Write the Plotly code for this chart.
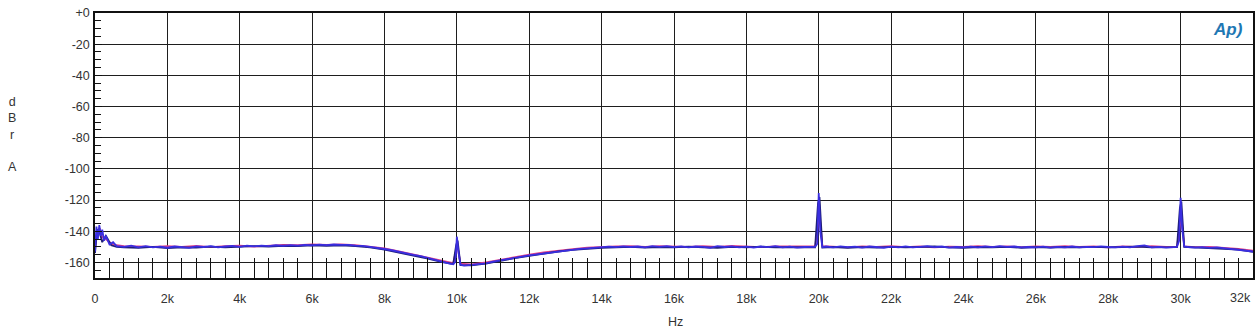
import plotly.graph_objects as go

# ---- frequency grids (Hz) ----
freq_main = [0, 40, 80, 120, 160, 200, 250, 300, 400, 500, 600, 800, 1000,
             1200, 1400, 1600, 1800, 2000, 2200, 2400, 2600, 2800, 3000,
             3200, 3400, 3600, 3800, 4000, 4200, 4400, 4600, 4800, 5000,
             5200, 5400, 5600, 5800, 6000, 6200, 6400, 6600, 6800, 7000,
             7200, 7400, 7600, 7800, 8000, 8200, 8400, 8600, 8800, 9000,
             9200, 9400, 9600, 9800,
             9900, 9960, 10000, 10040, 10100,
             10200, 10400, 10600, 10800, 11000, 11200, 11400, 11600, 11800, 12000,
             12200, 12400, 12600, 12800, 13000, 13200, 13400, 13600, 13800, 14000,
             14200, 14400, 14600, 14800, 15000, 15200, 15400, 15600, 15800, 16000,
             16200, 16400, 16600, 16800, 17000, 17200, 17400, 17600, 17800, 18000,
             18200, 18400, 18600, 18800, 19000, 19200, 19400, 19600, 19800,
             19900, 19960, 20000, 20040, 20100,
             20200, 20400, 20600, 20800, 21000, 21200, 21400, 21600, 21800, 22000,
             22200, 22400, 22600, 22800, 23000, 23200, 23400, 23600, 23800, 24000,
             24200, 24400, 24600, 24800, 25000, 25200, 25400, 25600, 25800, 26000,
             26200, 26400, 26600, 26800, 27000, 27200, 27400, 27600, 27800, 28000,
             28200, 28400, 28600, 28800, 29000, 29200, 29400, 29600, 29800,
             29900, 29960, 30000, 30040, 30100,
             30200, 30400, 30600, 30800, 31000, 31200, 31400, 31600, 31800, 32000]

blue_db = [-153, -137, -145, -136, -143, -139, -146, -143, -148.5, -147, -149.5, -150, -149.2,
           -150.3, -149.6, -150.4, -149.9, -150.6, -149.8, -150.2, -150.7, -149.7, -150.1,
           -149.5, -150.3, -149.8, -149.4, -150.0, -149.3, -149.7, -149.2, -149.6, -149.0,
           -149.4, -148.9, -149.2, -148.7, -149.1, -148.6, -148.9, -148.5, -148.8, -148.7,
           -149.2, -149.4, -150.1, -150.6, -151.4, -152.2, -153.3, -154.1, -155.2, -156.0,
           -157.3, -158.4, -159.6, -160.8,
           -161.2, -159.5, -143.5, -153.0, -161.5,
           -162.0, -161.6, -161.0, -160.6, -159.5, -158.6, -157.9, -157.0, -156.3, -155.5,
           -154.9, -154.0, -153.3, -152.8, -152.2, -151.9, -151.3, -151.0, -150.6, -150.5,
           -149.9, -150.2, -149.7, -150.1, -149.8, -150.3, -149.6, -150.0, -149.5, -150.2,
           -149.7, -150.4, -149.8, -150.0, -150.6, -149.6, -150.1, -149.7, -150.3, -149.9,
           -150.5, -149.8, -150.2, -149.6, -150.4, -149.9, -150.5, -150.1, -150.3,
           -150.0, -148.0, -115.5, -140.0, -150.2,
           -149.8, -150.3, -149.7, -150.2, -149.9, -150.5, -149.8, -150.1, -150.6, -149.9,
           -150.3, -149.7, -150.4, -150.0, -149.6, -150.2, -149.8, -150.5, -150.1, -150.4,
           -149.9, -150.3, -149.7, -150.2, -149.5, -150.0, -149.8, -150.4, -150.1, -150.3,
           -149.9, -150.5, -150.0, -150.3, -149.8, -150.4, -150.0, -150.2, -149.7, -150.1,
           -150.3, -149.9, -150.4, -149.6, -149.1, -150.3, -150.0, -150.5, -150.2,
           -150.0, -146.0, -118.5, -138.0, -149.8,
           -150.1, -150.5, -150.2, -150.7, -150.4, -151.0, -151.3, -151.9, -152.4, -153.0]

freq_alt = [0, 60, 130, 200, 300, 450, 600, 800,
            1200, 1600, 2000, 2400, 2800, 3200, 3600, 4000, 4400, 4800, 5200,
            5600, 6000, 6400, 6800, 7200, 7600, 8000, 8400, 8800, 9200, 9600,
            9900, 9980, 10020, 10100,
            10400, 10800, 11200, 11600, 12000, 12400, 12800, 13200, 13600, 14000,
            14400, 14800, 15200, 15600, 16000, 16400, 16800, 17200, 17600, 18000,
            18400, 18800, 19200, 19600,
            19900, 19980, 20020, 20100,
            20400, 20800, 21200, 21600, 22000, 22400, 22800, 23200, 23600, 24000,
            24400, 24800, 25200, 25600, 26000, 26400, 26800, 27200, 27600, 28000,
            28400, 28800, 29200, 29600,
            29900, 29980, 30020, 30100,
            30400, 30800, 31200, 31600, 32000]

red_db = [-151, -141, -138, -144, -145, -148, -149, -149.6,
          -149.7, -150.1, -149.5, -150.0, -149.4, -150.2, -149.6, -149.3, -149.9, -149.2, -148.8,
          -149.0, -148.5, -148.8, -148.4, -148.9, -149.8, -151.0, -153.0, -155.0, -157.0, -159.2,
          -160.4, -152.0, -150.0, -160.8,
          -161.2, -160.0, -158.2, -156.5, -155.0, -153.6, -152.4, -151.5, -150.6, -150.1,
          -149.8, -149.6, -150.0, -149.5, -149.8, -150.1, -149.6, -150.0, -149.4, -149.8,
          -150.2, -149.7, -149.9, -150.1,
          -149.8, -135.0, -128.0, -149.6,
          -149.9, -150.3, -149.7, -150.1, -149.5, -150.2, -149.8, -150.4, -149.9, -150.1,
          -149.6, -150.0, -149.7, -150.2, -149.8, -150.1, -149.6, -150.0, -149.8, -150.3,
          -149.7, -150.0, -149.5, -150.1,
          -149.9, -138.0, -130.0, -149.7,
          -150.2, -150.0, -150.6, -151.3, -152.4]

navy_db = [-154, -139, -141, -147, -143, -149, -150, -150.4,
           -150.6, -150.0, -150.8, -150.3, -150.5, -149.9, -150.4, -150.1, -149.5, -149.9, -149.3,
           -149.6, -149.0, -149.3, -149.0, -149.5, -150.4, -151.8, -153.6, -155.6, -157.6, -159.8,
           -161.0, -149.0, -146.0, -161.8,
           -161.9, -160.8, -158.9, -157.2, -155.8, -154.3, -153.0, -152.0, -151.2, -150.7,
           -150.4, -150.0, -150.5, -150.1, -150.4, -149.9, -150.3, -150.6, -150.0, -150.3,
           -149.9, -150.4, -150.2, -150.5,
           -150.3, -122.0, -118.0, -150.4,
           -150.1, -150.6, -150.2, -150.5, -150.0, -150.4, -150.2, -149.8, -150.4, -150.6,
           -150.1, -150.4, -150.0, -150.6, -150.2, -150.5, -150.1, -150.4, -150.0, -150.3,
           -150.1, -149.9, -150.4, -150.2,
           -150.2, -125.0, -121.0, -150.1,
           -150.4, -150.7, -151.0, -151.8, -153.3]

x_tick_vals = [0, 2000, 4000, 6000, 8000, 10000, 12000, 14000, 16000,
               18000, 20000, 22000, 24000, 26000, 28000, 30000]
x_tick_text = ["0", "2k", "4k", "6k", "8k", "10k", "12k", "14k", "16k",
               "18k", "20k", "22k", "24k", "26k", "28k", "30k"]
y_tick_vals = [0, -20, -40, -60, -80, -100, -120, -140, -160]
y_tick_text = ["+0", "-20", "-40", "-60", "-80", "-100", "-120", "-140", "-160"]

fig = go.Figure()
fig.add_trace(go.Scatter(x=freq_alt, y=red_db, mode="lines",
                         line=dict(color="#e0408a", width=1.8), name="Ch1"))
fig.add_trace(go.Scatter(x=freq_alt, y=navy_db, mode="lines",
                         line=dict(color="#1e1e78", width=1.8), name="Ch2"))
fig.add_trace(go.Scatter(x=freq_main, y=blue_db, mode="lines",
                         line=dict(color="#3a2ee0", width=1.8), name="Ch3"))

fnt = dict(family="Liberation Sans, Arial, sans-serif", size=12.5, color="#333333")

fig.update_layout(
    width=1260, height=331,
    margin=dict(l=95, r=5, t=13, b=53),
    paper_bgcolor="white", plot_bgcolor="white",
    showlegend=False,
    font=fnt,
    xaxis=dict(range=[0, 32000], tickmode="array", tickvals=x_tick_vals, ticktext=x_tick_text,
               showgrid=True, gridcolor="#1e1e1e", gridwidth=1.4, zeroline=False,
               showline=True, linecolor="#111111", linewidth=1.5, mirror=True,
               ticks="inside", ticklen=20, tickcolor="#111111", tickwidth=1.4,
               ticklabelstandoff=8, tickfont=fnt,
               minor=dict(tick0=0, dtick=400, ticks="inside", ticklen=20,
                          tickcolor="#111111", tickwidth=1.4, showgrid=False)),
    yaxis=dict(range=[-170, 0], tickmode="array", tickvals=y_tick_vals, ticktext=y_tick_text,
               showgrid=True, gridcolor="#1e1e1e", gridwidth=1.4, zeroline=False,
               showline=True, linecolor="#111111", linewidth=1.5, mirror=True,
               ticks="inside", ticklen=7, tickcolor="#111111", tickwidth=1.4,
               ticklabelstandoff=1, tickfont=fnt,
               minor=dict(tick0=0, dtick=5, ticks="inside", ticklen=6,
                          tickcolor="#111111", tickwidth=1.4, showgrid=False)),
)

fig.add_annotation(x=32000, xref="x", y=-0.075, yref="paper", text="32k",
                   showarrow=False, xanchor="right", yanchor="middle", font=fnt)
fig.add_annotation(x=0.5017, xref="paper", y=-0.166, yref="paper", text="Hz",
                   showarrow=False, xanchor="center", yanchor="middle", font=fnt)
fig.add_annotation(x=-0.0716, xref="paper", y=0.54, yref="paper",
                   text="d<br>B<br>r<br><br>A", showarrow=False,
                   xanchor="center", yanchor="middle", font=fnt)
fig.add_annotation(x=0.978, xref="paper", y=0.936, yref="paper",
                   text="<b><i>Ap)</i></b>", showarrow=False,
                   xanchor="center", yanchor="middle",
                   font=dict(family="Liberation Sans, Arial, sans-serif", size=17, color="#1f78b4"))

fig.write_html("out.html")
